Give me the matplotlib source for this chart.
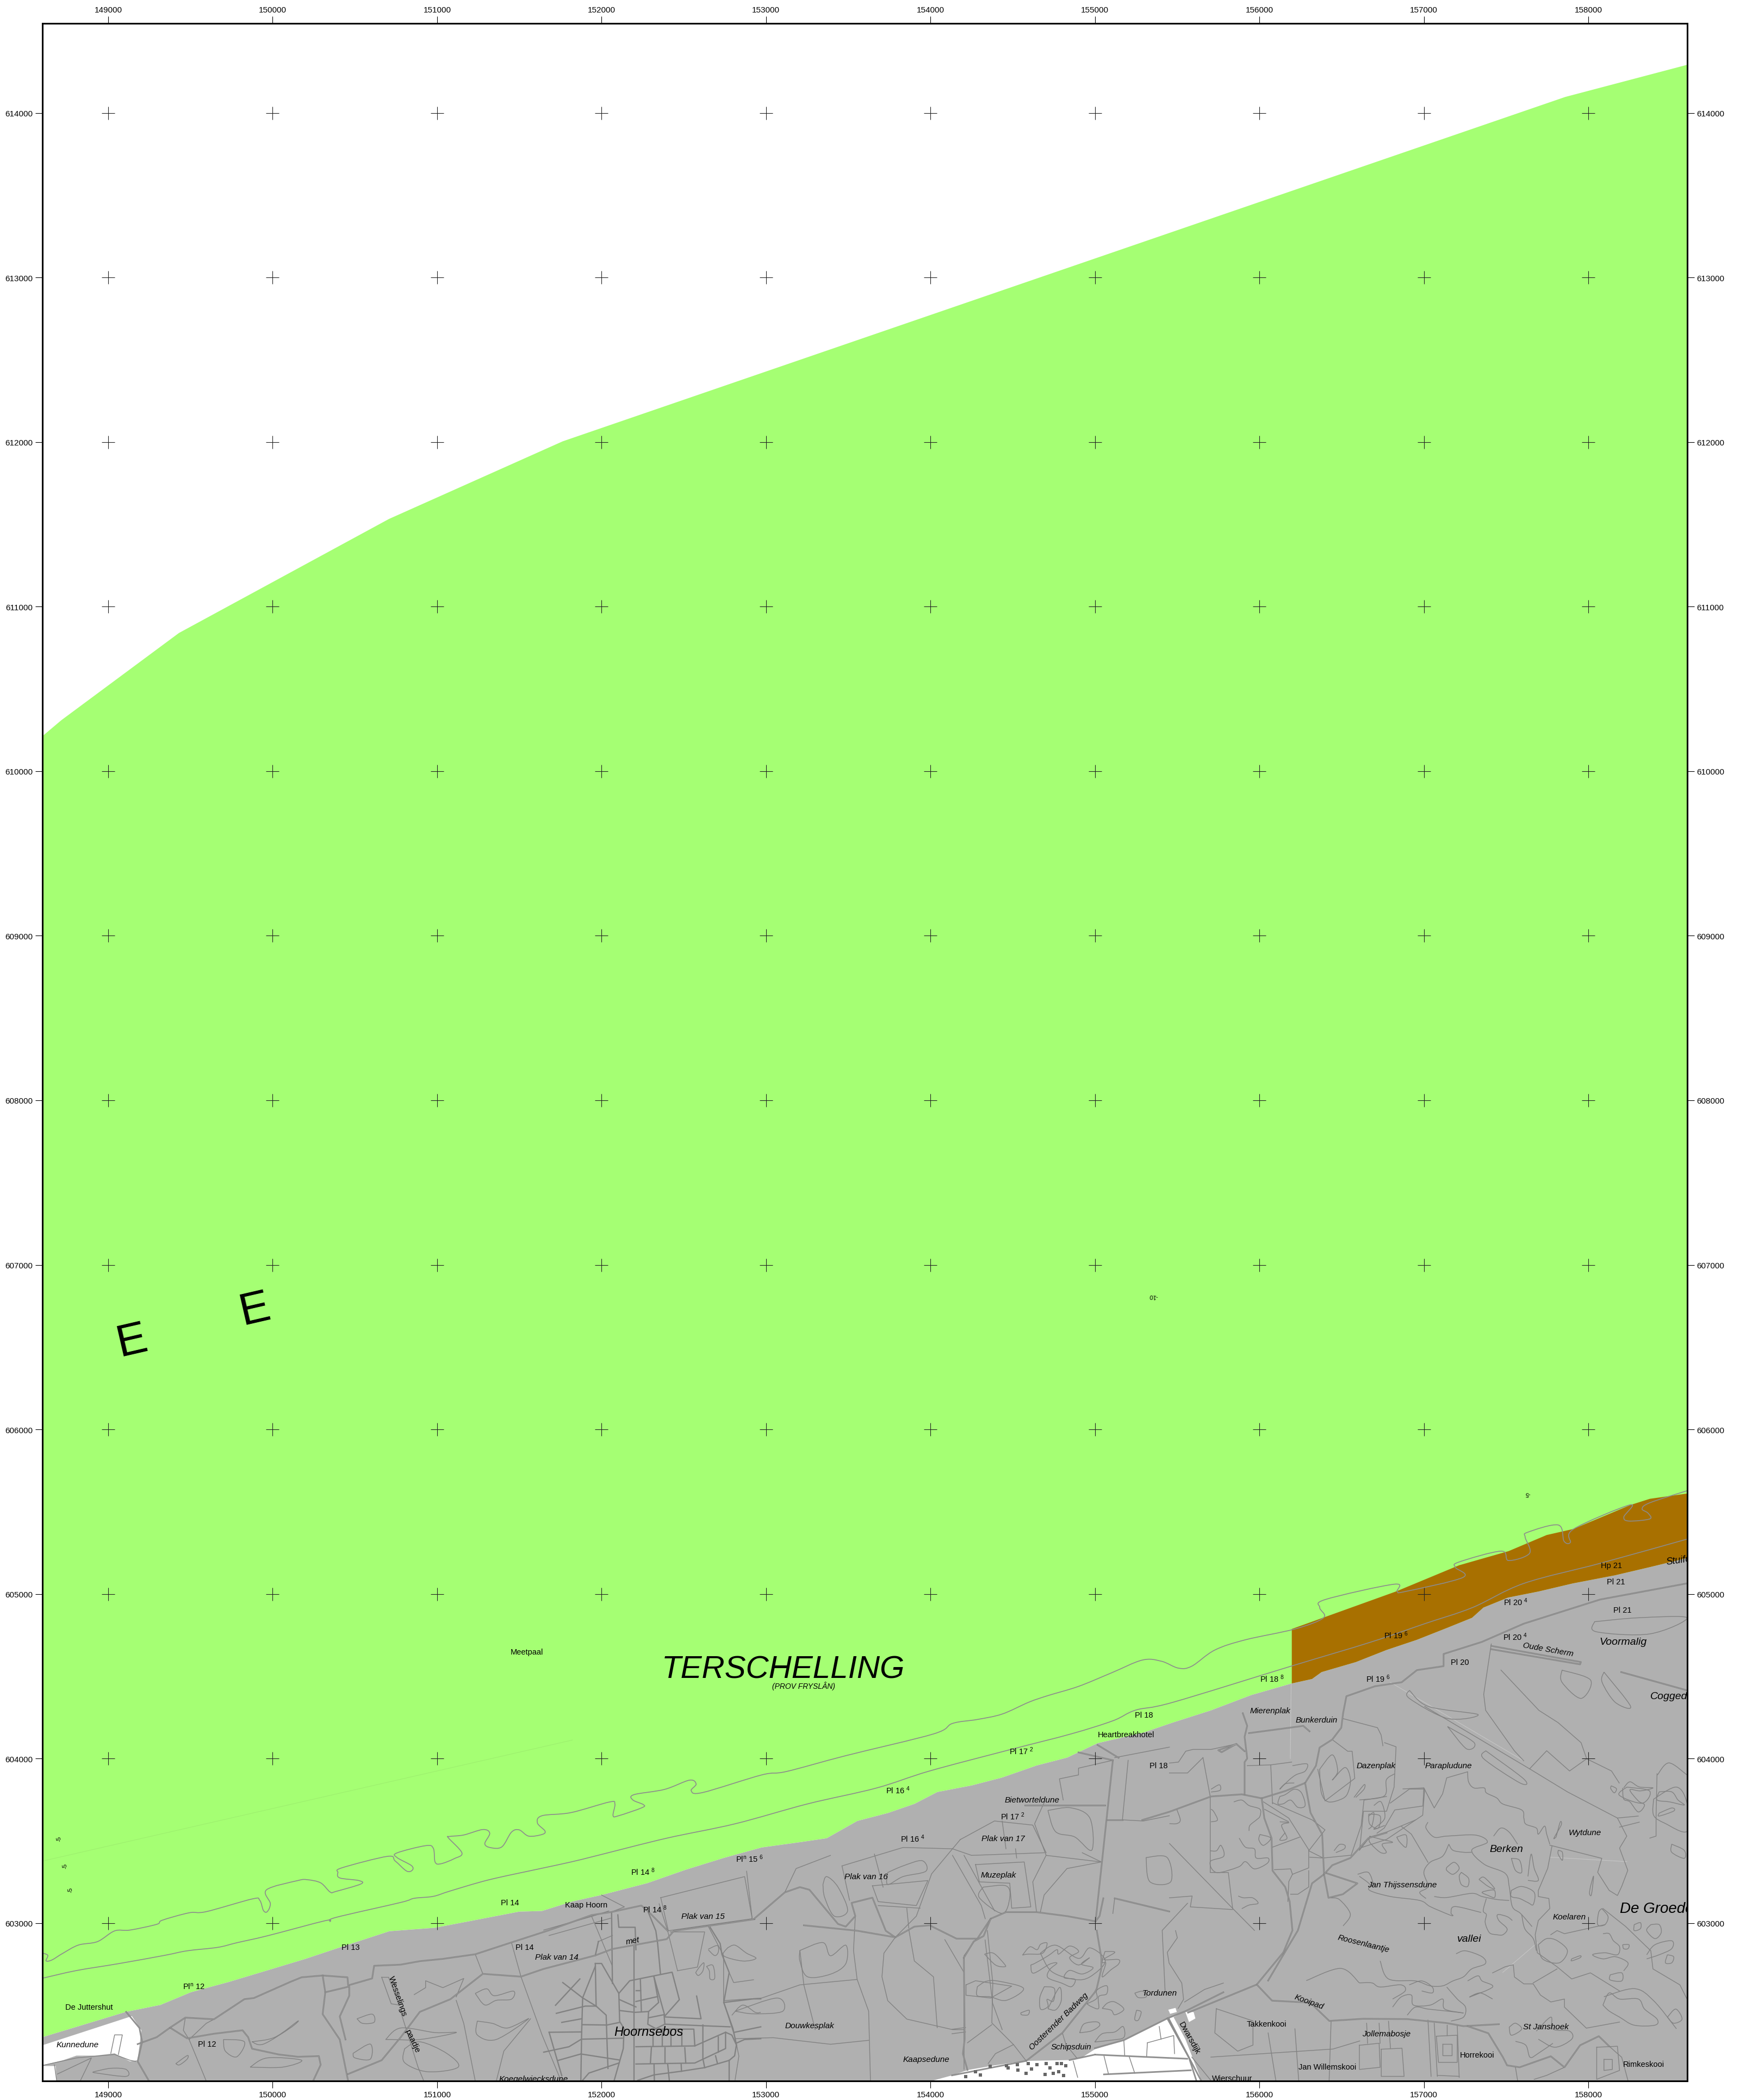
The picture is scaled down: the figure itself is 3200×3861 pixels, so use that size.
import matplotlib
matplotlib.use('Agg')
import matplotlib.pyplot as plt
from matplotlib.path import Path
from matplotlib.patches import PathPatch

plt.rcParams['font.family'] = ['Liberation Sans', 'DejaVu Sans']
plt.rcParams['mathtext.default'] = 'regular'

# grid of the map (RD coordinates)
x_ticks = [149000, 150000, 151000, 152000, 153000, 154000, 155000, 156000, 157000, 158000]
y_ticks = [603000, 604000, 605000, 606000, 607000, 608000, 609000, 610000, 611000, 612000, 613000, 614000]

# seaward limit of the green area
sea_limit = [(148600, 610213), (148715, 610310), (149430, 610840), (150707, 611533), (151764, 612005),
             (157860, 614098), (158600, 614293)]

# dune foot from west to east
coast = [(148600, 602306), (149109, 602460), (149318, 602502), (149503, 602579), (149735, 602642), (149968, 602712),
         (150200, 602782), (150431, 602859), (150710, 602950), (150988, 602971), (151244, 603020), (151499, 603069),
         (151638, 603073), (151824, 603131), (152000, 603170), (152278, 603242), (152510, 603323), (152742, 603395),
         (152974, 603459), (153206, 603491), (153369, 603515), (153555, 603620), (153740, 603668), (153903, 603724),
         (154042, 603796), (154251, 603836), (154436, 603884), (154645, 603957), (154831, 604005), (155017, 604093),
         (155295, 604157), (155473, 604218), (155705, 604292), (155950, 604385), (156197, 604456)]

# brown strip
brown_top = [(156197, 604787), (156831, 605015), (157214, 605174), (157515, 605260), (157747, 605358), (157910, 605395),
             (158258, 605541), (158374, 605578), (158600, 605610)]
brown_bottom = [(156197, 604456), (156320, 604483), (156378, 604525), (156587, 604586), (156772, 604659),
                (156957, 604721), (157142, 604794), (157293, 604855), (157362, 604917), (157512, 604978),
                (157698, 605015), (157906, 605064), (158161, 605113), (158370, 605162), (158600, 605218)]

# white patches
white_west = [(148600, 602257), (149144, 602434), (149202, 602348), (149179, 602166), (149132, 602159), (149039, 602208),
              (148923, 602194), (148807, 602194), (148726, 602166), (148600, 602135)]
white_corner = [(148600, 602131), (148680, 602131), (148687, 602040), (148600, 602040)]
white_town = [(154007, 602040), (154131, 602074), (154230, 602107), (154384, 602134), (154582, 602162), (154846, 602167),
              (154923, 602184), (155000, 602233), (155176, 602288), (155440, 602420), (155545, 602462), (155478, 602428),
              (155550, 602294), (155649, 602040)]
white_small = [[(155446, 602473), (155490, 602484), (155498, 602459), (155457, 602448)],
               [(155550, 602459), (155600, 602459), (155611, 602420), (155572, 602398)]]

# houses in the village
houses_x = [154472, 154527, 154533, 154593, 154615, 154648, 154703, 154769, 154797, 154824, 154698, 154725, 154780,
            154808, 154747, 154274, 154302, 154214, 154362, 154461, 154582]
houses_y = [602118, 602140, 602107, 602146, 602113, 602140, 602146, 602146, 602146, 602134, 602079, 602118, 602096,
            602074, 602085, 602096, 602077, 602068, 602129, 602134, 602085]

# low water lines
tide_upper = [(148603, 602817), (148633, 602803), (148622, 602770), (148657, 602775), (148726, 602817), (148819, 602866),
              (148935, 602887), (149039, 602952), (149132, 602957), (149295, 602992), (149329, 603017), (149492, 603062),
              (149596, 603069), (149875, 603146), (149921, 603139), (149944, 603076), (149967, 603069), (149986, 603118),
              (149963, 603202), (150153, 603258), (150211, 603263), (150292, 603244), (150350, 603188), (150385, 603192),
              (150536, 603237), (150524, 603258), (150408, 603274), (150397, 603307), (150420, 603335), (150698, 603405),
              (150745, 603377), (150814, 603316), (150849, 603321), (150844, 603349), (150756, 603398), (150756, 603426),
              (150930, 603470), (150977, 603454), (150988, 603370), (151023, 603360), (151104, 603391), (151151, 603426),
              (151069, 603517), (151076, 603526), (151162, 603535), (151278, 603568), (151320, 603545), (151290, 603482),
              (151325, 603458), (151394, 603463), (151452, 603552), (151499, 603566), (151557, 603528), (151638, 603538),
              (151656, 603559), (151610, 603608), (151638, 603652), (151814, 603671), (152046, 603735), (152081, 603724),
              (152070, 603652), (152104, 603652), (152244, 603700), (152255, 603719), (152190, 603748), (152197, 603780),
              (152383, 603812), (152534, 603868), (152575, 603844), (152545, 603804), (152615, 603793), (152974, 603900),
              (153125, 603921), (153485, 604017), (154018, 604149), (154134, 604213), (154285, 604237), (154436, 604270),
              (154598, 604342), (154714, 604382), (154900, 604438), (155100, 604520), (155288, 604598), (155404, 604591),
              (155508, 604549), (155589, 604561), (155729, 604659), (155914, 604721), (156216, 604787), (156390, 604855),
              (156367, 604917), (156401, 604966), (156819, 605059), (156838, 605015), (156889, 605015), (157237, 605100),
              (157191, 605162), (157214, 605194), (157469, 605260), (157515, 605203), (157643, 605247), (157616, 605345),
              (157632, 605375), (157817, 605419), (157852, 605321), (157891, 605313), (157910, 605394), (158253, 605541),
              (158216, 605468), (158246, 605443), (158374, 605456), (158362, 605492), (158327, 605517), (158374, 605554),
              (158600, 605627)]
tide_lower = [(148603, 602665), (148807, 602711), (149063, 602753), (149341, 602803), (149480, 602831), (149666, 602852),
              (149782, 602880), (149967, 602922), (150315, 603013), (150350, 603010), (150385, 603034), (150779, 603125),
              (150860, 603150), (150977, 603162), (151081, 603195), (151313, 603262), (151615, 603328), (151814, 603371),
              (151977, 603411), (152394, 603515), (152812, 603603), (153253, 603724), (153670, 603820), (153995, 603924),
              (154482, 604053), (154854, 604149), (155109, 604229), (155248, 604294), (155473, 604341), (156193, 604561),
              (156680, 604708), (157005, 604819), (157295, 604917), (157608, 605064), (158072, 605186), (158600, 605333)]

# paved roads and cycle paths
roads = [
    [(149179, 602264), (149295, 602306), (149376, 602364), (149480, 602299), (149643, 602327), (149817, 602348),
     (149851, 602306), (149875, 602236), (150037, 602201), (150153, 602187), (150281, 602191), (150292, 602138),
     (150246, 602040)],
    [(149376, 602364), (149469, 602425), (149643, 602415), (149828, 602537), (149886, 602544), (150107, 602642),
     (150176, 602670), (150304, 602681), (150455, 602670), (150459, 602621), (150605, 602663), (150617, 602740),
     (150779, 602747), (150895, 602768), (151035, 602782), (151232, 602810), (151452, 602882), (151684, 602957),
     (151939, 603048), (152061, 603067), (152242, 603106), (152281, 603073), (152402, 602952)],
    [(150304, 602681), (150320, 602579), (150304, 602446), (150408, 602292), (150459, 602040)],
    [(150320, 602579), (150466, 602614), (150466, 602558), (150408, 602432), (150443, 602292)],
    [(150459, 602082), (150663, 602166), (150779, 602306), (150895, 602460), (151081, 602537), (151278, 602691),
     (151510, 602674), (151648, 602721), (151962, 602803), (152066, 602842), (152396, 602902), (152440, 602952),
     (152930, 603023)],
    [(149109, 602460), (149190, 602362), (149206, 602278), (149179, 602159), (149248, 602040)],
    [(152928, 603026), (153114, 603186), (153206, 603218), (153264, 603202), (153438, 602994), (153485, 602978),
     (153543, 603042), (153520, 603122), (153647, 603154), (153728, 602953), (153786, 602913), (153902, 602978),
     (153995, 602986), (154158, 602905), (154285, 602905), (154366, 603026), (154459, 603066), (154645, 603066),
     (154830, 603042), (155004, 603010)],
    [(153230, 602986), (153554, 602953), (153786, 602913)],
    [(155004, 603010), (155109, 603989)],
    [(155051, 603150), (155028, 603042), (155004, 603010)],
    [(155011, 602954), (155039, 602789), (155039, 602723), (155011, 602602), (155000, 602580), (154802, 602332),
     (154582, 602162)],
    [(155000, 602239), (155176, 602288), (155440, 602420), (155550, 602464), (155781, 602579)],
    [(155000, 602200), (155561, 602175)],
    [(154846, 602167), (155000, 602200)],
    [(155440, 602420), (155583, 602161), (155644, 602045)],
    [(155451, 602415), (155571, 602184), (155616, 602045)],
    [(154203, 602789), (154208, 602294), (154197, 602206), (154225, 602107)],
    [(154203, 602789), (154263, 602888), (154323, 602921), (154366, 603026)],
    [(155055, 602080), (155583, 602105)],
    [(154131, 602074), (154582, 602162)],
    [(155288, 603626), (155453, 603676), (155706, 603769), (155893, 603782), (156014, 603758), (156157, 603802),
     (156278, 603851), (156344, 603956), (156366, 604066), (156443, 604115), (156498, 604187), (156509, 604275),
     (156529, 604378), (156703, 604439), (156865, 604463), (156958, 604537), (157120, 604561), (157120, 604635),
     (157352, 604708), (157607, 604819), (158072, 604966), (158600, 605064)],
    [(155910, 603782), (155910, 603978), (155926, 604000), (155910, 604132), (155926, 604198), (155899, 604275)],
    [(156014, 603758), (156030, 603637), (156074, 603516), (156080, 603318), (156157, 603219), (156184, 603131),
     (156201, 602955), (156146, 602822), (155984, 602626), (155566, 602455)],
    [(156278, 603851), (156311, 603670), (156382, 603538), (156393, 603296), (156320, 603241), (156234, 602955),
     (156169, 602846), (156053, 602650)],
    [(156393, 603296), (156420, 603153), (156508, 603175), (156596, 603241), (156410, 603302)],
    [(155860, 604088), (155750, 604050), (155770, 604038), (155860, 604088), (155910, 604044)],
    [(155937, 604154), (156267, 604198), (156305, 604165)],
    [(156393, 603296), (156443, 603351), (156553, 603395), (156663, 603516), (156773, 603549)],
    [(155984, 602626), (156077, 602528), (156309, 602516), (156425, 602405), (156633, 602418), (156899, 602416),
     (157139, 602392), (157241, 602373), (157456, 602385)],
    [(157266, 602373), (157392, 602330), (157481, 602184), (157506, 602135), (157582, 602123), (157772, 602190),
     (157855, 602123), (157950, 602257), (158064, 602312), (158127, 602251)],
    [(155120, 603150), (155452, 603070)],
    [(155074, 603627), (155167, 603627)],
    [(154575, 603716), (155062, 603716)],
    [(157410, 604684), (157955, 604586), (157950, 604572), (157410, 604664)],
    [(158200, 604525), (158600, 604414)],
    [(155016, 604082), (155144, 604004)],
    [(154900, 604037), (155109, 603989)],
]

# streets of the Hoornsebos
streets = [
    [(152209, 602248), (152567, 602253), (152754, 602336), (152792, 602319), (152820, 602259), (152809, 602193),
     (152776, 602165), (152627, 602121), (152484, 602099), (152319, 602077), (152220, 602044)],
    [(152209, 602143), (152567, 602149), (152754, 602237), (152754, 602336)],
    [(152198, 602858), (152198, 602044)],
    [(152061, 603062), (152066, 602633)],
    [(151962, 602754), (152000, 602754), (152105, 602572), (152171, 602649), (152429, 602701), (152473, 602534),
     (152385, 602435), (152319, 602671)],
    [(151962, 602754), (151967, 602495)],
    [(151764, 602638), (151885, 602545), (151967, 602495), (152028, 602440), (152033, 602281), (152039, 602116)],
    [(151962, 602737), (151885, 602545), (151879, 602338), (151874, 602044)],
    [(151720, 602500), (151868, 602660)],
    [(151725, 602451), (151901, 602495), (151967, 602495)],
    [(151758, 602396), (151879, 602418)],
    [(151885, 602382), (152033, 602380), (152110, 602396)],
    [(151885, 602294), (152132, 602300)],
    [(151874, 602204), (152105, 602168)],
    [(151648, 602215), (151802, 602248), (151874, 602292)],
    [(151736, 602165), (151874, 602204)],
    [(151681, 602336), (151879, 602338)],
    [(151681, 602336), (151758, 602072)],
    [(152105, 602572), (152110, 602402), (152137, 602358), (152132, 602237), (152077, 602044)],
    [(152105, 602149), (151923, 602088), (151885, 602044)],
    [(152110, 602468), (152204, 602457), (152286, 602462), (152347, 602517), (152319, 602671)],
    [(152110, 602534), (152209, 602490)],
    [(152286, 602462), (152281, 602385), (152330, 602358), (152385, 602385), (152380, 602443)],
    [(152385, 602385), (152781, 602369)],
    [(152385, 602429), (152605, 602418), (152578, 602556)],
    [(152286, 602424), (152380, 602443)],
    [(152209, 602523), (152341, 602553)],
    [(152236, 602655), (152242, 602462)],
    [(152209, 602589), (152236, 602589)],
    [(152303, 602242), (152297, 602149)], [(152385, 602242), (152385, 602149)], [(152506, 602242), (152512, 602149)],
    [(152319, 602143), (152321, 602044)], [(152402, 602143), (152412, 602044)], [(152484, 602143), (152486, 602099)],
    [(152616, 602380), (152616, 602176), (152627, 602121)], [(152710, 602308), (152710, 602215)],
    [(152693, 602193), (152704, 602149)], [(152209, 602355), (152561, 602355), (152567, 602253)],
    [(152313, 602352), (152313, 602253)], [(152369, 602352), (152369, 602253)], [(152421, 602352), (152421, 602253)],
    [(152487, 602352), (152487, 602253)],
    [(152660, 602974), (152721, 602875), (152732, 602809), (152776, 602699), (152743, 602517), (152799, 602358),
     (152820, 602259)],
    [(152743, 602517), (152924, 602539), (152968, 602539)],
    [(152820, 602270), (152869, 602292), (152968, 602297)],
    [(152809, 602336), (152968, 602369)],
    [(152776, 602165), (152776, 602044)],
    [(152281, 603073), (152330, 602952), (152341, 602875), (152358, 602693)],
    [(152099, 603049), (152105, 602974), (152204, 602974), (152209, 602838)],
    [(151981, 602888), (151962, 602803)],
]

# thin paths, parcels and fences
paths = [
    [(148603, 602135), (148807, 602180), (149039, 602201), (149132, 602166), (149167, 602159)],
    [(148673, 602138), (148687, 602040)],
    [(148691, 602082), (148898, 602180), (148830, 602040)],
    [(149016, 602208), (149039, 602320), (149086, 602320), (149062, 602201)],
    [(149469, 602425), (149457, 602348), (149492, 602292), (149596, 602040)],
    [(149492, 602292), (149596, 602390), (149643, 602415)],
    [(151452, 602882), (151510, 602674), (151638, 602320), (151754, 602040)],
    [(151232, 602810), (151278, 602691)],
    [(150663, 602670), (150721, 602509), (150768, 602502), (150705, 602670), (150663, 602670)],
    [(150779, 602460), (150884, 602124), (150919, 602040)],
    [(150861, 602565), (150930, 602607), (150930, 602649), (151035, 602607), (151162, 602663), (151116, 602551)],
    [(151116, 602530), (151162, 602390), (151232, 602040)],
    [(151568, 602418), (151406, 602222), (151360, 602040)],
    [(151648, 602957), (151940, 603040), (152044, 603073)],
    [(151940, 603040), (152066, 602737)],
    [(151681, 602924), (152055, 603029)],
    [(151978, 602886), (152066, 602924)],
    [(152350, 603117), (152402, 602952), (152462, 602710)],
    [(152418, 602946), (152627, 602946), (152583, 602732), (152462, 602710)],
    [(152924, 602655), (152803, 602638), (152776, 602699)],
    [(152360, 603154), (152870, 603282), (152916, 603026), (152406, 602953), (152360, 603154)],
    [(152882, 603315), (152916, 603026)],
    [(152000, 603170), (152139, 603098), (152061, 603067)],
    [(153114, 603186), (153183, 603331), (153392, 603411)],
    [(153462, 603347), (153833, 603459), (154134, 603451), (154250, 603411), (154691, 603427)],
    [(154134, 603451), (154007, 603299), (153914, 603042), (153786, 602913)],
    [(155109, 603989), (154900, 603941), (154900, 603900), (154784, 603876), (154807, 603748)],
    [(155120, 604005), (155453, 604069)],
    [(155202, 603989), (155167, 603627), (155294, 603620), (155452, 603652)],
    [(155120, 603150), (155109, 603058)],
    [(154691, 603732), (154633, 603603), (154703, 603411), (155039, 603371)],
    [(154703, 603411), (154622, 603250), (154645, 603066)],
    [(154923, 603427), (155039, 603371), (154830, 603331), (154691, 603170), (154668, 603066)],
    [(154134, 603411), (154309, 603106), (154333, 603026)],
    [(154204, 603411), (154390, 603074)],
    [(154181, 603507), (154389, 603620), (154622, 603595), (154703, 603427)],
    [(154181, 603507), (154134, 603451)],
    [(154436, 603620), (154459, 603451)],
    [(154517, 603451), (154524, 603395)],
    [(154274, 603355), (154297, 603250), (154482, 603242), (154494, 603090), (154610, 603098), (154570, 603371),
     (154274, 603355)],
    [(153647, 603226), (153984, 603258), (153914, 603106), (153682, 603130), (153647, 603226)],
    [(153682, 603106), (153937, 603090)],
    [(153856, 603090), (153868, 602970)],
    [(153659, 603419), (153712, 603218)],
    [(153462, 603347), (153508, 603138)],
    [(153786, 602913), (153717, 602817), (153705, 602673), (153740, 602528), (153856, 602416), (154134, 602352),
     (154204, 602352)],
    [(154273, 602897), (154204, 602801), (154204, 602111)],
    [(154332, 602897), (154378, 602512), (154436, 602352)],
    [(153543, 603042), (153532, 602833), (153554, 602657), (153624, 602464), (153635, 602045)],
    [(152742, 602528), (152974, 602544), (153206, 602624), (153554, 602657)],
    [(152742, 602520), (152812, 602303), (152835, 602191), (152812, 602047)],
    [(152650, 602978), (152742, 602801), (152742, 602528)],
    [(152812, 602297), (153044, 602303), (153392, 602263), (153624, 602287)],
    [(153206, 602833), (153230, 602624), (153299, 602352)],
    [(153868, 602961), (153902, 602769), (154018, 602673), (154041, 602364)],
    [(154216, 602624), (154274, 602649), (154494, 602616), (154366, 602544), (154216, 602561), (154216, 602624)],
    [(155490, 602954), (155501, 602910), (155440, 602822), (155451, 602756), (155528, 602635), (155539, 602536),
     (155506, 602481)],
    [(155545, 602520), (155666, 602596), (155781, 602635)],
    [(154346, 602954), (154379, 602635), (154373, 602393), (154505, 602261), (154582, 602162)],
    [(154087, 602899), (154203, 602701)],
    [(154225, 602272), (154373, 602382)],
    [(154351, 602146), (154395, 602206), (154505, 602261)],
    [(154802, 602332), (154824, 602261), (154890, 602179)],
    [(154131, 602354), (154213, 602365)],
    [(154131, 602327), (154213, 602338)],
    [(154868, 602161), (154895, 602062)],
    [(155055, 602192), (155083, 602080)],
    [(155209, 602186), (155242, 602087)],
    [(155176, 602283), (155181, 602195)],
    [(155319, 602272), (155314, 602186)],
    [(155319, 602272), (155479, 602316), (155484, 602206)],
    [(155391, 602371), (155402, 602294)],
    [(155657, 604005), (155701, 603769), (155701, 603307), (155811, 603307), (155838, 603082)],
    [(155453, 603483), (155844, 603082), (155970, 602955)],
    [(155453, 603153), (155591, 603164), (155580, 603098), (155833, 603082)],
    [(155563, 603120), (155409, 602955), (155427, 602577)],
    [(155453, 603972), (155508, 603978), (155552, 604044), (155596, 604055), (155706, 604055), (155860, 604088)],
    [(155453, 603912), (155563, 603912), (155657, 604005)],
    [(155926, 603956), (156069, 603961), (156080, 603725)],
    [(156069, 603961), (156196, 603978)],
    [(156080, 603731), (156322, 603626), (156399, 603566), (156300, 603439), (156388, 603395), (156558, 603412),
     (156619, 603593), (156636, 603747), (156773, 603769)],
    [(156025, 603736), (156179, 603637), (156300, 603445), (156300, 603335), (156201, 603296), (156179, 603252),
     (156173, 603131)],
    [(156080, 603461), (156245, 603522)],
    [(156091, 603324), (156190, 603329), (156201, 603296)],
    [(156306, 603400), (156388, 603395)],
    [(156449, 604110), (156537, 604044), (156564, 604044), (156580, 603879), (156399, 603742), (156355, 603934)],
    [(156509, 604242), (156718, 604187), (156740, 604143), (156751, 604077)],
    [(156761, 604096), (156831, 604071), (156819, 603826), (156773, 603679), (156633, 603679), (156610, 603447)],
    [(156796, 603729), (156912, 603814), (157005, 603814), (156993, 603655), (156773, 603508), (156622, 603459)],
    [(156300, 603318), (156300, 603219), (156234, 603175), (156190, 603175)],
    [(157005, 604316), (157643, 603937), (157873, 603797), (158177, 603638)],
    [(157766, 603473), (158082, 603393), (158057, 603308), (158127, 603198), (158177, 603167), (158203, 603222),
     (158240, 603320), (158190, 603455), (158234, 603528), (158177, 603638), (158304, 603650)],
    [(158190, 603583), (158310, 603613)],
    [(157779, 603467), (157753, 603332), (157696, 603198), (157696, 603161), (157760, 603149), (157766, 603088),
     (157696, 603015), (157677, 602929), (157690, 602819), (157810, 602734), (157899, 602660), (158013, 602697),
     (158190, 602587)],
    [(157772, 602929), (157810, 602954), (157855, 602935), (158101, 602990)],
    [(158089, 603088), (158228, 602978), (158380, 602831), (158393, 602721), (158557, 602624), (158600, 602538)],
    [(157665, 602636), (157810, 602721)],
    [(157418, 602697), (157494, 602734), (157544, 602746), (157551, 602672), (157608, 602630), (157665, 602630),
     (157709, 602562), (157772, 602520), (157855, 602538), (157855, 602489), (157988, 602361), (158190, 602398)],
    [(157855, 602123), (157747, 602074), (157671, 602050)],
    [(157557, 602123), (157570, 602043)],
    [(158127, 602251), (158203, 602184), (158241, 602043)],
    [(158051, 602245), (158177, 602251), (158190, 602104), (158051, 602050), (158051, 602245)],
    [(158095, 602171), (158146, 602171), (158146, 602110), (158095, 602104), (158095, 602171)],
    [(157076, 602312), (157203, 602318), (157203, 602153), (157089, 602153), (157076, 602312)],
    [(157114, 602265), (157171, 602265), (157171, 602196), (157114, 602196), (157114, 602265)],
    [(156608, 602257), (156728, 602269), (156734, 602123), (156608, 602110), (156608, 602257)],
    [(156741, 602233), (156867, 602239), (156880, 602068), (156741, 602068), (156741, 602233)],
    [(157025, 602410), (157044, 602068)],
    [(157063, 602391), (157082, 602068)],
    [(157203, 602379), (157215, 602062)],
    [(157082, 602074), (157215, 602068)],
    [(156652, 602391), (156658, 602269)],
    [(156728, 602391), (156734, 602269)],
    [(156785, 602403), (156797, 602239)],
    [(157139, 602379), (157139, 602318)],
    [(158418, 603907), (158412, 603650), (158412, 603528), (158374, 603516)],
    [(156873, 603815), (157000, 603821), (156994, 603711), (156823, 603687), (156759, 603577), (156715, 603546)],
    [(157000, 603821), (157063, 603699), (157114, 603785), (157139, 603882), (157266, 603919)],
    [(156949, 603626), (156772, 603552), (156671, 603522), (156608, 603442)],
    [(156861, 603589), (156924, 603540), (157025, 603369)],
    [(157410, 604696), (157364, 604390), (157376, 604292), (157550, 604047), (157607, 603986)],
    [(157469, 604537), (157700, 604292), (157816, 604218), (157956, 604096), (157990, 603998)],
    [(157643, 603937), (157747, 604047), (157886, 603924), (157990, 603998), (158141, 603924), (158188, 603851)],
    [(155705, 602185), (156447, 602234), (156610, 602283)],
    [(156436, 602405), (156424, 602043)],
    [(156053, 602332), (156100, 602043)],
    [(156216, 602357), (156239, 602043)],
    [(155589, 602185), (155705, 602043)],
    [(155738, 602479), (155961, 602405), (155961, 602258), (155868, 602221), (155729, 602332), (155738, 602479)],
]

# faint lines in the base map
faint_grey = [[(156193, 604451), (156188, 604000)], [(156796, 604463), (157607, 603986)],
              [(157766, 603400), (158234, 603373)], [(157690, 602880), (157480, 602700)]]
faint_green = [(148603, 603377), (151823, 604112)]

# dune valleys, drawn as wiggly outlines
valleys = [
    [(152649, 602841), (152704, 602863), (152710, 602824), (152688, 602802), (152649, 602837)],
    [(152572, 602698), (152594, 602731), (152622, 602758), (152616, 602709), (152589, 602681), (152572, 602698)],
    [(152638, 602736), (152677, 602742), (152688, 602665), (152660, 602660), (152655, 602709), (152638, 602736)],
    [(152792, 602439), (152858, 602501), (152935, 602457), (152968, 602457)],
    [(154560, 602805), (154604, 602855), (154648, 602838), (154670, 602871), (154709, 602877), (154681, 602816),
     (154593, 602811), (154560, 602805)],
    [(154610, 602745), (154637, 602756), (154714, 602800), (154769, 602838), (154780, 602811), (154846, 602860),
     (154901, 602827), (154846, 602789), (154901, 602745), (154967, 602789), (154918, 602750), (154989, 602728),
     (154923, 602690), (154846, 602712), (154813, 602668), (154879, 602657), (154857, 602613), (154797, 602635),
     (154714, 602668), (154725, 602717), (154769, 602756), (154725, 602750), (154626, 602695), (154610, 602745)],
    [(154692, 602613), (154753, 602602), (154747, 602525), (154709, 602536), (154714, 602492), (154670, 602476),
     (154665, 602547), (154692, 602613)],
    [(154549, 602454), (154599, 602470), (154593, 602442), (154555, 602442), (154549, 602454)],
    [(154329, 602811), (154384, 602816), (154450, 602750), (154450, 602734), (154395, 602745), (154329, 602811)],
    [(154285, 602613), (154340, 602646), (154417, 602646), (154566, 602602), (154461, 602530), (154362, 602552),
     (154285, 602558), (154285, 602613)],
    [(155044, 602481), (155077, 602514), (155121, 602520), (155176, 602476), (155121, 602442), (155099, 602470),
     (155044, 602481)],
    [(154907, 602333), (154934, 602387), (155011, 602399), (155028, 602376), (154978, 602344), (154907, 602333)],
    [(154999, 602277), (155044, 602327), (155121, 602338), (155171, 602371), (155176, 602305), (155099, 602288),
     (154999, 602277)],
    [(155253, 602470), (155281, 602459), (155264, 602410), (155242, 602415), (155253, 602470)],
    [(155061, 602827), (155121, 602822), (155055, 602778), (155143, 602778), (155143, 602750), (155099, 602717),
     (155044, 602673), (155066, 602756), (155044, 602762), (155061, 602827)],
    [(154951, 602509), (155011, 602542), (155011, 602591), (155071, 602619), (155071, 602569), (155022, 602552),
     (155022, 602481), (154978, 602492), (154951, 602509)],
    [(155242, 602574), (155291, 602585), (155313, 602552), (155264, 602547), (155242, 602574)],
    [(153346, 603234), (153369, 603282), (153438, 603218), (153496, 603074), (153415, 603042), (153357, 603154),
     (153346, 603234)],
    [(153740, 603307), (153833, 603347), (153949, 603379), (153972, 603315), (153833, 603282), (153740, 603234),
     (153740, 603307)],
    [(154714, 603684), (154854, 603700), (154970, 603636), (154981, 603443), (154877, 603523), (154761, 603555),
     (154714, 603684)],
    [(154320, 603218), (154459, 603226), (154482, 603154), (154436, 603058), (154297, 603154), (154320, 603218)],
    [(152766, 602849), (152812, 602865), (152881, 602817), (152939, 602785), (152858, 602769), (152742, 602801),
     (152766, 602849)],
    [(153206, 602833), (153346, 602881), (153392, 602801), (153485, 602865), (153485, 602753), (153392, 602689),
     (153253, 602673), (153206, 602769), (153206, 602833)],
    [(154668, 602817), (154761, 602865), (154900, 602785), (154970, 602849), (155063, 602769), (154970, 602673),
     (154877, 602657), (154737, 602705), (154668, 602817)],
    [(154714, 602479), (154784, 602608), (154795, 602528), (154761, 602472), (154714, 602479)],
    [(152812, 602464), (153067, 602544), (153102, 602464), (152928, 602448), (152812, 602464)],
    [(148912, 602096), (149016, 602117), (149109, 602110), (149109, 602068), (148924, 602089), (148912, 602096)],
    [(149411, 602145), (149480, 602194), (149480, 602173), (149434, 602138), (149411, 602145)],
    [(149701, 602292), (149828, 602278), (149782, 602187), (149712, 602222), (149701, 602292)],
    [(149874, 602278), (150014, 602306), (150153, 602404), (150107, 602362), (149944, 602264), (149874, 602278)],
    [(149863, 602124), (149967, 602180), (150176, 602166), (150060, 602124), (149863, 602124)],
    [(150513, 602418), (150605, 602446), (150617, 602397), (150547, 602390), (150513, 602418)],
    [(150489, 602208), (150594, 602264), (150594, 602173), (150501, 602180), (150489, 602208)],
    [(150687, 602292), (150779, 602362), (150988, 602334), (151116, 602334), (150895, 602292), (150721, 602292),
     (150687, 602292)],
    [(150802, 602236), (150895, 602278), (151058, 602208), (151128, 602124), (150942, 602096), (150802, 602152),
     (150802, 602236)],
    [(151232, 602572), (151302, 602600), (151348, 602558), (151464, 602586), (151452, 602537), (151360, 602530),
     (151290, 602502), (151232, 602572)],
    [(151244, 602404), (151336, 602390), (151429, 602362), (151556, 602418), (151359, 602292), (151244, 602320),
     (151244, 602404)],
    [(157840, 604537), (158014, 604476), (157956, 604365), (157840, 604463), (157840, 604537)],
    [(158095, 604525), (158257, 604317), (158164, 604341), (158084, 604463), (158095, 604525)],
    [(158037, 604831), (158304, 604855), (158600, 604855), (158374, 604757), (158049, 604770), (158037, 604831)],
    [(157376, 604047), (157608, 603875), (157585, 603851), (157364, 603998), (157376, 604047)],
    [(157144, 604194), (157306, 604096), (157259, 604059), (157144, 604194)],
    [(156912, 604414), (157028, 604316), (157329, 604267), (157144, 604243), (156912, 604365), (156912, 604414)],
    [(155311, 603398), (155439, 603398), (155461, 603251), (155334, 603251), (155311, 603398)],
    [(158397, 603753), (158536, 603826), (158600, 603728), (158600, 603557), (158466, 603606), (158397, 603655),
     (158397, 603753)],
    [(158234, 603826), (158373, 603802), (158327, 603728), (158188, 603777), (158234, 603826)],
    # Zuidwest of Dazenplak
    [(155844, 603736), (155893, 603747), (155937, 603714), (156003, 603692), (156003, 603648), (155981, 603626),
     (155942, 603593), (155937, 603560)],
    [(155877, 603516), (155915, 603461), (155970, 603450), (155981, 603395), (156052, 603395), (156047, 603362),
     (155970, 603329), (155915, 603373), (155871, 603340), (155739, 603307), (155701, 603373), (155783, 603406),
     (155766, 603472), (155739, 603439), (155701, 603439)],
    [(156003, 603538), (156069, 603516), (156025, 603472), (155997, 603505), (156003, 603538)],
    [(156124, 603615), (156179, 603610), (156135, 603593), (156168, 603516), (156124, 603505), (156157, 603549)],
    [(156030, 603692), (156113, 603648), (156179, 603615)],
    [(155706, 603813), (155756, 603840), (155761, 603807), (155706, 603796)],
    [(155453, 603604), (155497, 603604), (155519, 603626), (155497, 603692)],
    [(155706, 603615), (155745, 603626), (155723, 603676), (155706, 603692)],
    [(156366, 603934), (156443, 604022), (156476, 603923), (156443, 603868), (156520, 603945), (156553, 603879),
     (156542, 603802), (156509, 603758), (156421, 603736), (156377, 603791), (156366, 603934)],
    [(156201, 603956), (156289, 603967), (156278, 603923), (156223, 603901), (156179, 603868), (156124, 603813),
     (156157, 603846), (156212, 603851)],
    [(156124, 603769), (156157, 603780), (156212, 603813), (156256, 603791), (156278, 603714), (156234, 603703),
     (156190, 603747), (156146, 603725), (156113, 603725), (156124, 603769)],
    [(156663, 603648), (156696, 603670), (156685, 603593), (156663, 603571)],
    [(156696, 603714), (156740, 603736), (156762, 603637), (156696, 603571), (156762, 603593)],
    [(156575, 603763), (156636, 603840), (156636, 603813), (156586, 603763)],
    [(156454, 603439), (156487, 603477), (156520, 603472), (156515, 603450), (156465, 603428)],
    [(155871, 603164), (155904, 603153), (155959, 603153), (155992, 603120), (155937, 603109), (155893, 603087)],
    [(156597, 603296), (156663, 603307), (156696, 603230)],
    [(156432, 603153), (156487, 603142), (156553, 603054), (156509, 602982)],
    # Berken and the Groede valley
    [(157266, 603919), (157272, 603858), (157304, 603821), (157367, 603821), (157380, 603791), (157443, 603760),
     (157481, 603723), (157595, 603687), (157608, 603638), (157620, 603601), (157684, 603577), (157696, 603540),
     (157734, 603589), (157747, 603540), (157766, 603479)],
    [(157696, 602868), (157747, 602905), (157810, 602893), (157873, 602831), (157823, 602758), (157722, 602782),
     (157696, 602868)],
    [(158082, 603088), (158120, 603039), (158101, 602990), (158057, 602990), (158063, 603064), (158082, 603088)],
    [(158215, 603821), (158253, 603858), (158310, 603827), (158393, 603821), (158317, 603803), (158253, 603809),
     (158304, 603742), (158342, 603717), (158304, 603675), (158253, 603736), (158215, 603754), (158209, 603821)],
    [(158139, 603834), (158171, 603816), (158158, 603791), (158137, 603816), (158139, 603834)],
    [(158431, 603797), (158507, 603797), (158545, 603748), (158583, 603717), (158495, 603736), (158418, 603748),
     (158431, 603797)],
    [(158431, 603668), (158507, 603699), (158520, 603681), (158431, 603650), (158431, 603668)],
    [(158507, 603479), (158583, 603442), (158583, 603393), (158507, 603430), (158507, 603479)],
    [(156671, 603528), (156734, 603510), (156810, 603491), (156747, 603479), (156772, 603430), (156734, 603430),
     (156671, 603491), (156671, 603528)],
    [(156835, 603522), (156892, 603534), (156892, 603461), (156854, 603491), (156835, 603522)],
    [(157025, 603613), (157013, 603577), (157063, 603522), (157139, 603528), (157316, 603534), (157386, 603491),
     (157291, 603442), (157367, 603357), (157494, 603302), (157519, 603222), (157538, 603100), (157589, 603057),
     (157658, 602978)],
    [(157152, 603479), (157177, 603442), (157241, 603430), (157291, 603430)],
    [(157152, 603479), (157114, 603406), (157038, 603369), (157000, 603308), (157025, 603222), (156975, 603186),
     (157013, 603149)],
    [(157139, 603338), (157184, 603369), (157215, 603332), (157177, 603296), (157139, 603320), (157139, 603338)],
    [(157335, 603265), (157367, 603277), (157430, 603210), (157392, 603222), (157335, 603265)],
    [(157228, 603308), (157272, 603271), (157266, 603222), (157228, 603234), (157215, 603283), (157228, 603308)],
    [(157392, 603198), (157430, 603198), (157430, 603155), (157392, 603167), (157354, 603186), (157392, 603198)],
    [(156608, 603284), (156671, 603235), (156671, 603198), (156797, 603161), (156975, 603137), (157038, 603100),
     (157152, 603051), (157177, 603045), (157165, 603063), (157190, 603100), (157348, 603064)],
    [(157063, 603161), (157139, 603155), (157291, 603180), (157354, 603161), (157443, 603143), (157519, 603137)],
    [(157380, 603149), (157361, 603075), (157380, 603051), (157373, 603002), (157399, 602941), (157443, 602929),
     (157481, 602929), (157506, 602965), (157456, 603015), (157449, 603051), (157506, 603039), (157538, 603015)],
    [(157595, 603051), (157614, 602965), (157665, 602905), (157684, 602832)],
    [(157633, 603283), (157652, 603418), (157671, 603332), (157696, 603259), (157633, 603259)],
    [(157532, 603198), (157595, 603222), (157671, 603186), (157665, 603112), (157633, 603124), (157582, 603149),
     (157532, 603161), (157532, 603198)],
    [(157424, 603528), (157468, 603577), (157519, 603552), (157570, 603479)],
    [(157532, 603393), (157582, 603381), (157595, 603308), (157557, 603320), (157532, 603393)],
    [(157196, 602813), (157253, 602831), (157354, 602795), (157373, 602752), (157291, 602721), (157241, 602673),
     (157177, 602648), (157114, 602618), (157038, 602618), (156949, 602648), (156785, 602660), (156734, 602770)],
    [(157266, 602648), (157329, 602679), (157354, 602648), (157418, 602611), (157279, 602550), (157342, 602575),
     (157418, 602538)],
    [(157139, 602611), (157203, 602538), (157253, 602489), (157241, 602428), (157165, 602404)],
    [(156810, 602489), (156861, 602550), (156924, 602562), (156937, 602501), (157038, 602501), (157114, 602538),
     (157127, 602477), (157241, 602453)],
    [(156608, 602636), (156684, 602636), (156734, 602611), (156861, 602624), (156886, 602587), (156810, 602538)],
    [(156911, 602624), (156987, 602648), (157051, 602611), (157051, 602575), (156987, 602587)],
    [(156899, 602440), (156949, 602489), (157025, 602477), (157139, 602465), (157241, 602453)],
    [(158089, 602501), (158127, 602575), (158190, 602538), (158304, 602538), (158342, 602477), (158418, 602416),
     (158405, 602379), (158279, 602379), (158190, 602428), (158127, 602465), (158089, 602501)],
    [(158089, 602935), (158127, 602935), (158152, 602893), (158190, 602856), (158177, 602807), (158101, 602819),
     (158026, 602807), (158089, 602782), (158165, 602795), (158241, 602758), (158215, 602709)],
    [(158380, 602990), (158431, 602990), (158443, 602941), (158405, 602905), (158355, 602954), (158380, 602990)],
    [(158279, 602990), (158317, 603002), (158317, 602966), (158279, 602954), (158279, 602990)],
    [(158355, 602807), (158405, 602868), (158507, 602892), (158507, 602844), (158431, 602807), (158355, 602782)],
    [(158481, 602807), (158519, 602795), (158507, 602758), (158469, 602758), (158481, 602807)],
    [(158481, 602428), (158532, 602477), (158570, 602416), (158519, 602391), (158481, 602428)],
    [(157519, 602367), (157557, 602391), (157595, 602355), (157532, 602318), (157519, 602367)],
    [(157684, 602343), (157772, 602428), (157785, 602355), (157886, 602343), (157899, 602294), (157797, 602245),
     (157696, 602294)],
    [(157557, 602281), (157620, 602257), (157646, 602184), (157696, 602208), (157785, 602269)],
    [(158209, 602868), (158247, 602868), (158241, 602844), (158215, 602844), (158209, 602868)],
    [(157899, 602782), (157950, 602801), (157950, 602789), (157899, 602770), (157899, 602782)],
    [(158133, 602685), (158203, 602697), (158203, 602648), (158133, 602654), (158133, 602685)],
    [(158013, 603222), (158032, 603284), (158019, 603173), (158007, 603180), (158013, 603222)],
    [(157804, 603522), (157829, 603613), (157835, 603595), (157791, 603516), (157804, 603522)],
    [(157817, 603442), (157842, 603430), (157842, 603381), (157817, 603418), (157817, 603442)],
    [(156608, 603748), (156759, 603772), (156772, 603870), (156823, 603907)],
    [(156665, 603662), (156734, 603650), (156722, 603577), (156671, 603601), (156665, 603662)],
    [(156285, 602650), (156494, 602724), (156608, 602636)],
    [(158420, 603900), (158490, 603973), (158600, 603900)],
    [(158095, 602552), (158280, 602601), (158397, 602528), (158536, 602357)],
]

# place names: regular, then italic
names = ['Pl 14', 'Kaap Hoorn', 'Pl 13', 'Pl 14', 'Pl$^{n}$ 12', 'De Juttershut', 'Pl 12', 'Meetpaal',
         'Pl 18', 'Heartbreakhotel', 'Pl 17 $^{2}$', 'Pl 18', 'Pl 16 $^{4}$', 'Pl 17 $^{2}$', 'Pl 16 $^{4}$',
         'Pl$^{n}$ 15 $^{6}$', 'Pl 14 $^{8}$', 'Pl 14 $^{8}$', 'Hp 21', 'Pl 21', 'Pl 20 $^{4}$', 'Pl 21', 'Pl 19 $^{6}$',
         'Pl 20 $^{4}$', 'Pl 20', 'Pl 18 $^{8}$', 'Pl 19 $^{6}$', 'Takkenkooi', 'Horrekooi', 'Rimkeskooi',
         'Jan Willemskooi', 'Wierschuur']
names_x = [151443, 151906, 150473, 151531, 149522, 148884, 149601, 151545, 155299, 155190, 154552, 155387, 153803,
           154501, 153891, 152900, 152251, 152325, 158141, 158169, 157557, 158206, 156830, 157554, 157220, 156077,
           156722, 156044, 157325, 158336, 156413, 155835]
names_y = [603123, 603112, 602852, 602852, 602616, 602488, 602266, 604647, 604265, 604146, 604048, 603956, 603809,
           603652, 603515, 603392, 603315, 603085, 605174, 605076, 604953, 604904, 604750, 604743, 604586, 604488,
           604488, 602386, 602200, 602143, 602126, 602058]

italic_names = ['Plak van 14', 'Kunnedune', 'Koegelwiecksdune', 'Bietworteldune', 'Plak van 17', 'Muzeplak', 'Plak van 16',
                'Plak van 15', 'Douwkesplak', 'Kaapsedune', 'Schipsduin', 'Tordunen', 'Mierenplak', 'Bunkerduin',
                'Dazenplak', 'Parapludune', 'Wytdune', 'Jan Thijssensdune', 'Koelaren', 'St Janshoek', 'Jollemabosje']
italic_x = [151726, 148812, 151587, 154617, 154441, 154413, 153608, 152617, 153264, 153974, 154854, 155392, 156065,
            156348, 156708, 157151, 157981, 156868, 157886, 157742, 156773]
italic_y = [602793, 602261, 602052, 603748, 603515, 603294, 603282, 603042, 602376, 602172, 602247, 602577, 604292,
            604236, 603956, 603956, 603552, 603234, 603038, 602371, 602327]

# names that sit at an angle: text, x, y, rotation, size, style
slanted = [('Wesselings', 150761, 602558, -71, 11, 'normal'), ('paadje', 150849, 602285, -65, 11, 'normal'),
           ('met', 152190, 602894, 10, 11, 'italic'), ('Oosterender Badweg', 154779, 602403, 44, 11, 'italic'),
           ('Oude Scherm', 157754, 604664, -10, 11, 'italic'), ('Roosenlaantje', 156633, 602876, -14, 11, 'italic'),
           ('Kooipad', 156302, 602521, -20, 11, 'italic'), ('Dwarsdijk', 155571, 602303, -61, 11, 'normal'),
           ('Hoornsebos', 152288, 602339, 0, 17, 'italic'), ('Voormalig', 158211, 604708, 0, 14, 'italic'),
           ('Berken', 157503, 603449, 0, 14, 'italic'), ('vallei', 157276, 602905, 0, 14, 'italic'),
           ('TERSCHELLING', 153106, 604540, 0, 42, 'italic'), ('(PROV FRYSLÂN)', 153228, 604444, 0, 10, 'italic')]

# names running off the right edge
cut_names = [('Stuifdijk', 158473, 605194, 8, 13), ('Coggedune', 158378, 604378, 0, 14), ('De Groede', 158192, 603087, 0, 20)]

# depth figures, printed upside down
depths = [('-5', 148703, 603517, 100), ('-5', 148738, 603351, 100), ('-5', 148770, 603204, 100),
          ('-5', 157631, 605610, 175), ('-10', 155356, 606813, 175)]

big_e_x = [149143, 149890]
big_e_y = [606539, 606731]

GREEN = '#a5ff73'
GREY = '#b0b0b0'
BROWN = '#a87000'
LINE = '#828282'


def xs(pts):
    return [p[0] for p in pts]


def ys(pts):
    return [p[1] for p in pts]


def curve(ax, pts, **kw):
    verts = [pts[0]]
    codes = [Path.MOVETO]
    for i in range(len(pts) - 1):
        p0 = pts[max(i - 1, 0)]
        p1 = pts[i]
        p2 = pts[i + 1]
        p3 = pts[min(i + 2, len(pts) - 1)]
        c1 = (p1[0] + (p2[0] - p0[0]) / 6, p1[1] + (p2[1] - p0[1]) / 6)
        c2 = (p2[0] - (p3[0] - p1[0]) / 6, p2[1] - (p3[1] - p1[1]) / 6)
        verts += [c1, c2, p2]
        codes += [Path.CURVE4] * 3
    ax.add_patch(PathPatch(Path(verts, codes), fill=False, **kw))


fig = plt.figure(figsize=(32, 38.62), dpi=100)
ax = fig.add_axes([78 / 3200, 35 / 3862, 3024.5 / 3200, 3783 / 3862])
ax.set_xlim(148600, 158600)
ax.set_ylim(602040, 614545)

# areas
green_edge = sea_limit + [(158600, 605218)] + brown_bottom[::-1] + coast[::-1]
ax.fill(xs(green_edge), ys(green_edge), color=GREEN, lw=0, zorder=1)
grey_edge = coast + brown_bottom[1:] + [(158600, 602040), (148600, 602040)]
ax.fill(xs(grey_edge), ys(grey_edge), color=GREY, lw=0, zorder=2)
brown_edge = brown_top + brown_bottom[::-1]
ax.fill(xs(brown_edge), ys(brown_edge), color=BROWN, lw=0, zorder=2)
for patch in [white_west, white_corner, white_town] + white_small:
    ax.fill(xs(patch), ys(patch), color='white', lw=0, zorder=3)

# lines
ax.plot(xs(faint_green), ys(faint_green), color='#9df06e', lw=0.8, zorder=1.5)
for line in faint_grey:
    ax.plot(xs(line), ys(line), color='#c6c6c6', lw=0.8, zorder=3.5)
curve(ax, tide_upper, edgecolor='#8c8c8c', lw=1.2, zorder=4)
curve(ax, tide_lower, edgecolor='#8c8c8c', lw=1.2, zorder=4)
for line in valleys:
    curve(ax, line, edgecolor=LINE, lw=1.0, zorder=4)
for line in paths:
    ax.plot(xs(line), ys(line), color=LINE, lw=1.0, zorder=4, solid_joinstyle='round')
for line in streets:
    ax.plot(xs(line), ys(line), color=LINE, lw=1.7, zorder=4, solid_joinstyle='round')
for line in roads:
    ax.plot(xs(line), ys(line), color='#808080', lw=2.0, zorder=5, solid_joinstyle='round')
    ax.plot(xs(line), ys(line), color='#a4a4a4', lw=0.6, zorder=5, solid_joinstyle='round')
ax.scatter(houses_x, houses_y, marker='s', s=16, color='#666666', lw=0, zorder=5)

# kilometre crosses
for gx in x_ticks:
    for gy in y_ticks:
        ax.plot(gx, gy, marker='+', ms=17, mew=0.8, color='#222222', zorder=6)

# names
for t, x, y in zip(names, names_x, names_y):
    ax.text(x, y, t, fontsize=10.5, ha='center', va='center', zorder=7, clip_on=True)
for t, x, y in zip(italic_names, italic_x, italic_y):
    ax.text(x, y, t, fontsize=11, style='italic', ha='center', va='center', zorder=7, clip_on=True)
for t, x, y, rot, size, sty in slanted:
    ax.text(x, y, t, fontsize=size, style=sty, rotation=rot, rotation_mode='anchor', ha='center', va='center',
            zorder=7, clip_on=True)
for t, x, y, rot, size in cut_names:
    ax.text(x, y, t, fontsize=size, style='italic', rotation=rot, rotation_mode='anchor', ha='left', va='center',
            zorder=7, clip_on=True)
for t, x, y, rot in depths:
    ax.text(x, y, t, fontsize=8, rotation=rot, ha='center', va='center', zorder=7)
for x, y in zip(big_e_x, big_e_y):
    ax.text(x, y, 'E', fontsize=60, rotation=13, ha='center', va='center', zorder=7)

# frame and ticks
ax.set_xticks(x_ticks)
ax.set_yticks(y_ticks)
ax.set_xticklabels([str(v) for v in x_ticks])
ax.set_yticklabels([str(v) for v in y_ticks])
ax.tick_params(direction='out', length=9.5, width=0.8, labelsize=11, pad=3.5,
               top=True, right=True, labeltop=True, labelright=True)
for side in ax.spines.values():
    side.set_linewidth(2.2)
    side.set_zorder(8)

fig.savefig('out.png', dpi=100, facecolor='white')
